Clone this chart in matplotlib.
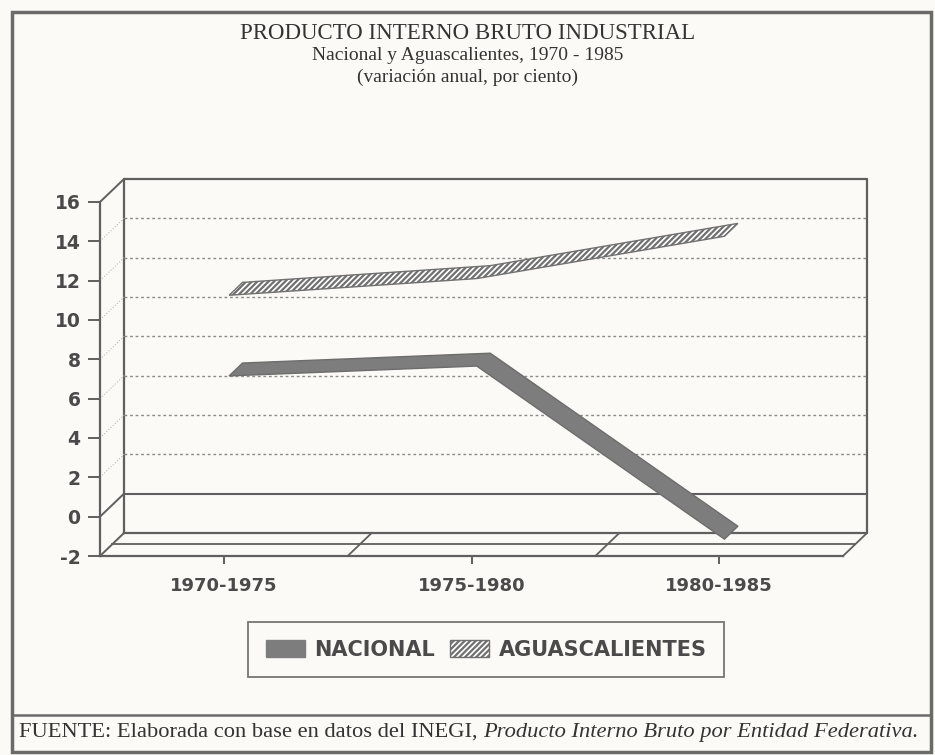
import numpy as np
import matplotlib.pyplot as plt
from matplotlib.patches import Polygon, Patch, Rectangle
from matplotlib.lines import Line2D

# datos (variacion anual, %)
periodos = ['1970-1975', '1975-1980', '1980-1985']
nacional = [6.9, 7.4, -1.4]
aguascalientes = [11.0, 11.85, 14.0]
yticks = [16, 14, 12, 10, 8, 6, 4, 2, 0, -2]
rejilla = [2, 4, 6, 8, 10, 12, 14]

# profundidad del efecto 3D (en unidades de datos)
DX, DY = 0.097, 1.17
gris = '#5f5f5f'

plt.rcParams['hatch.linewidth'] = 1.6

fig = plt.figure(figsize=(9.35, 7.55), dpi=100)
fig.patch.set_facecolor('#fbfaf6')
ax = fig.add_axes([100/935, 199/755, 743/935, 354/755])
ax.set_xlim(-0.5, 2.5)
ax.set_ylim(-2, 16)
ax.patch.set_alpha(0)

x = np.arange(len(periodos))
x0, x1 = -0.5, 2.5

# pared del fondo
ax.plot([x0 + DX, x0 + DX, x1 + DX, x1 + DX, x0 + DX],
        [-2 + DY, 16 + DY, 16 + DY, -2 + DY, -2 + DY],
        color=gris, lw=1.6, clip_on=False)
for v in rejilla:
    ax.plot([x0 + DX, x1 + DX], [v + DY, v + DY], color='#8a8a8a', lw=1, ls=(0, (2, 2)), clip_on=False)
    ax.plot([x0, x0 + DX], [v, v + DY], color='#bbbbbb', lw=0.8, ls=':', clip_on=False)
ax.plot([x0 + DX, x1 + DX], [0 + DY, 0 + DY], color=gris, lw=1.5, clip_on=False)
for v in [16, 0, -2]:
    ax.plot([x0, x0 + DX], [v, v + DY], color=gris, lw=1.4, clip_on=False)

# piso
ax.plot([x0 + DX / 2, x1 + DX / 2], [-2 + DY / 2, -2 + DY / 2], color=gris, lw=1.3, clip_on=False)
for xb in [0.5, 1.5, 2.5]:
    ax.plot([xb, xb + DX], [-2, -2 + DY], color=gris, lw=1.3, clip_on=False)


def cinta(vals, d0=0.22, d1=0.78):
    frente = [(xi + d0 * DX, v + d0 * DY) for xi, v in zip(x, vals)]
    fondo = [(xi + d1 * DX, v + d1 * DY) for xi, v in zip(x, vals)]
    return frente + fondo[::-1]


ax.add_patch(Polygon(cinta(aguascalientes), closed=True, facecolor='white', edgecolor='#707070',
                     hatch='//////', lw=1, clip_on=False, zorder=4))
ax.add_patch(Polygon(cinta(nacional), closed=True, facecolor='#7d7d7d', edgecolor='#6d6d6d',
                     lw=1, clip_on=False, zorder=5))

# ejes
for s in ['top', 'right']:
    ax.spines[s].set_visible(False)
for s in ['left', 'bottom']:
    ax.spines[s].set_color(gris)
    ax.spines[s].set_linewidth(1.6)
ax.set_yticks(yticks)
ax.set_yticklabels([str(t) for t in yticks])
ax.set_xticks(x)
ax.set_xticklabels(periodos)
ax.tick_params(axis='y', length=9, width=1.4, color=gris, pad=5, labelsize=13.5, labelcolor='#4a4a4a')
ax.tick_params(axis='x', length=6, width=1.4, color=gris, pad=9, labelsize=13, labelcolor='#4a4a4a')
for lab in ax.get_xticklabels() + ax.get_yticklabels():
    lab.set_fontweight('bold')

# titulos
serif = ['Liberation Serif', 'DejaVu Serif']
fig.text(0.5, 0.955, 'PRODUCTO INTERNO BRUTO INDUSTRIAL', ha='center', va='center',
         family=serif, size=16.5, color='#333333')
fig.text(0.5, 0.926, 'Nacional y Aguascalientes, 1970 - 1985', ha='center', va='center',
         family=serif, size=14, color='#333333')
fig.text(0.5, 0.897, '(variación anual, por ciento)', ha='center', va='center',
         family=serif, size=14, color='#333333')

# leyenda
manejadores = [Patch(facecolor='#7d7d7d', edgecolor='#7d7d7d'),
               Patch(facecolor='white', edgecolor='#707070', hatch='//////')]
leg = fig.legend(manejadores, ['NACIONAL', 'AGUASCALIENTES'], loc='center',
                 bbox_to_anchor=(0.52, 0.1397), ncol=2, frameon=True, fancybox=False,
                 edgecolor='#555555', prop={'weight': 'bold', 'size': 15},
                 handlelength=1.87, handleheight=0.87, borderpad=0.85,
                 columnspacing=0.75, handletextpad=0.45, labelcolor='#4a4a4a')
leg.get_frame().set_linewidth(1.3)
leg.get_frame().set_facecolor('none')

# marco y fuente
fig.add_artist(Rectangle((12/935, 3/755), 919/935, 740/755, transform=fig.transFigure,
                         fill=False, edgecolor='#6a6a6a', lw=2.5))
fig.add_artist(Line2D([12/935, 931/935], [40/755, 40/755], transform=fig.transFigure,
                      color='#6a6a6a', lw=1.8))
t1 = fig.text(19/935, 23/755, 'FUENTE: Elaborada con base en datos del INEGI, ', ha='left',
              va='center', family=serif, size=16.2, color='#333333')
ax.annotate('Producto Interno Bruto por Entidad Federativa.', xy=(1, 0), xycoords=t1,
            ha='left', va='bottom', family=serif, size=16.2, style='italic', color='#333333',
            annotation_clip=False)

fig.savefig('out.png', dpi=100, facecolor=fig.get_facecolor())
